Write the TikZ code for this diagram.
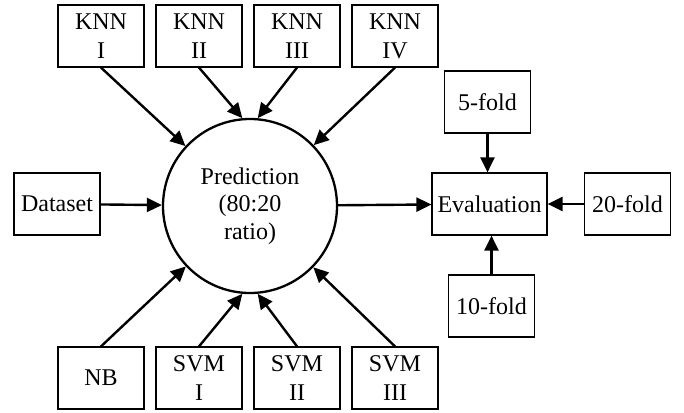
\documentclass[tikz,border=0pt]{standalone}
\usepackage{fontspec}
\setmainfont{Liberation Serif}
\usetikzlibrary{arrows.meta,positioning}

\begin{document}
\begin{tikzpicture}[x=0.5pt, y=-0.5pt,
    box/.style={draw, line width=0.6pt, align=center, minimum width=43pt, minimum height=31pt, inner sep=1pt, font=\fontsize{12}{14.5}\selectfont},
    core/.style={draw, circle, line width=1.15pt, align=center, minimum size=87pt, inner sep=0pt, font=\fontsize{12}{13.8}\selectfont},
    arrow/.style={-{Triangle[length=7.5pt,width=7pt]}, line width=1.2pt}
  ]
    \useasboundingbox (0,0) rectangle (684,412);

    \node[core] (pred) at (250,206) {Prediction\\(80:20\\ratio)};

    \node[box] (knn1) at (101,36) {KNN\\I};
    \node[box] (knn2) at (199,36) {KNN\\II};
    \node[box] (knn3) at (297,36) {KNN\\III};
    \node[box] (knn4) at (395,36) {KNN\\IV};
    \node[box] (data) at (57,204) {Dataset};
    \node[box] (nb) at (101,378) {NB};
    \node[box] (svm1) at (199,378) {SVM\\I};
    \node[box] (svm2) at (297,378) {SVM\\II};
    \node[box] (svm3) at (395,378) {SVM\\III};

    \node[box, minimum width=57.5pt] (eval) at (489.5,204) {Evaluation};
    \node[box] (f5) at (487.5,102) {5-fold};
    \node[box] (f20) at (627.5,204) {20-fold};
    \node[box] (f10) at (491.5,306) {10-fold};

    \draw[arrow] (knn1.south) -- (pred);
    \draw[arrow] (knn2.south) -- (pred.95);
    \draw[arrow] (knn3.south) -- (pred.85);
    \draw[arrow] (knn4.south) -- (pred);
    \draw[arrow] (data) -- (pred);
    \draw[arrow] (nb.north) -- (pred);
    \draw[arrow] (svm1.north) -- (pred.265);
    \draw[arrow] (svm2.north) -- (pred.275);
    \draw[arrow] (svm3.north) -- (pred);
    \draw[arrow] (pred) -- (eval);
    \draw[arrow] (f5.south) -- (f5.south |- eval.north);
    \draw[arrow] (f20) -- (eval);
    \draw[arrow] (f10.north) -- (f10.north |- eval.south);
  \end{tikzpicture}
\end{document}
